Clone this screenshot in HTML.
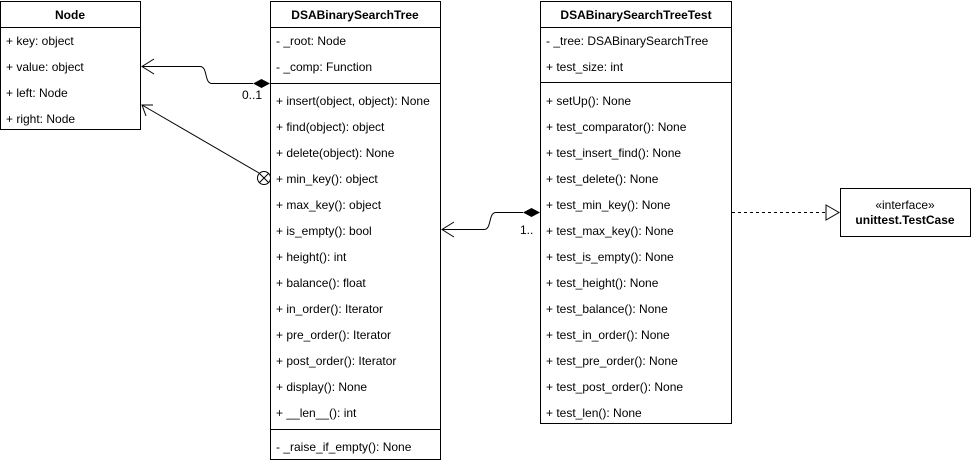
<!DOCTYPE html>
<html><head><style>body{margin:0;background:#fff}svg{display:block}text{font-family:"Liberation Sans",Arial,sans-serif;font-size:12px;fill:#000}</style></head><body>
<svg width="971" height="462" xmlns="http://www.w3.org/2000/svg">
<g fill="#fff" stroke="#000" stroke-width="1">
<rect x="0.5" y="1.5" width="140" height="128"/>
<rect x="270.5" y="1.5" width="170" height="458"/>
<rect x="540.5" y="1.5" width="191" height="422"/>
<rect x="840.5" y="188.5" width="130" height="48"/>
</g>
<g stroke="#000">
<line x1="0" y1="27.5" x2="141" y2="27.5"/>
<line x1="270" y1="27.5" x2="441" y2="27.5"/>
<line x1="270" y1="83.5" x2="441" y2="83.5"/>
<line x1="270" y1="429.5" x2="441" y2="429.5"/>
<line x1="540" y1="27.5" x2="732" y2="27.5"/>
<line x1="540" y1="82.5" x2="732" y2="82.5"/>
</g>
<g font-weight="bold" text-anchor="middle">
<text x="70" y="19" font-weight="bold">Node</text>
<text x="355" y="19" font-weight="bold">DSABinarySearchTree</text>
<text x="636" y="19" font-weight="bold">DSABinarySearchTreeTest</text>
</g>
<text x="905" y="209" text-anchor="middle" font-size="11">«interface»</text>
<text x="905" y="224" text-anchor="middle" font-weight="bold">unittest.TestCase</text>
<g>
<text x="6" y="45">+ key: object</text>
<text x="6" y="71">+ value: object</text>
<text x="6" y="97">+ left: Node</text>
<text x="6" y="123">+ right: Node</text>
</g>
<g>
<text x="276" y="45">- _root: Node</text>
<text x="276" y="71">- _comp: Function</text>
<text x="276" y="105">+ insert(object, object): None</text>
<text x="276" y="131">+ find(object): object</text>
<text x="276" y="157">+ delete(object): None</text>
<text x="276" y="183">+ min_key(): object</text>
<text x="276" y="209">+ max_key(): object</text>
<text x="276" y="235">+ is_empty(): bool</text>
<text x="276" y="261">+ height(): int</text>
<text x="276" y="287">+ balance(): float</text>
<text x="276" y="313">+ in_order(): Iterator</text>
<text x="276" y="339">+ pre_order(): Iterator</text>
<text x="276" y="365">+ post_order(): Iterator</text>
<text x="276" y="391">+ display(): None</text>
<text x="276" y="417">+ __len__(): int</text>
<text x="276" y="451">- _raise_if_empty(): None</text>
</g>
<g>
<text x="546" y="45">- _tree: DSABinarySearchTree</text>
<text x="546" y="71">+ test_size: int</text>
<text x="546" y="105">+ setUp(): None</text>
<text x="546" y="131">+ test_comparator(): None</text>
<text x="546" y="157">+ test_insert_find(): None</text>
<text x="546" y="183">+ test_delete(): None</text>
<text x="546" y="209">+ test_min_key(): None</text>
<text x="546" y="235">+ test_max_key(): None</text>
<text x="546" y="261">+ test_is_empty(): None</text>
<text x="546" y="287">+ test_height(): None</text>
<text x="546" y="313">+ test_balance(): None</text>
<text x="546" y="339">+ test_in_order(): None</text>
<text x="546" y="365">+ test_pre_order(): None</text>
<text x="546" y="391">+ test_post_order(): None</text>
<text x="546" y="417">+ test_len(): None</text>
</g>
<g fill="none" stroke="#000" stroke-width="1">
<path d="M253 83.5 H212 C204 83.5 208 66.5 200 66.5 H142"/>
<path d="M154 59 L142 66.5 L154 74"/>
<path d="M259 173 L142 105"/>
<path d="M146 116 L142 105 L153 105"/>
<circle cx="264" cy="178" r="6.5"/>
<path d="M259.5 173.5 L268.5 182.5 M268.5 173.5 L259.5 182.5"/>
<path d="M523 212.5 H496 C488 212.5 492 229.5 484 229.5 H442"/>
<path d="M454 222 L442 229.5 L454 237"/>
<path d="M732 212.5 H826" stroke-dasharray="3,3"/>
<path d="M826 205 L839 212.5 L826 220 Z"/>
</g>
<path d="M270 83.5 L261.5 79 L253 83.5 L261.5 88 Z" fill="#000"/>
<path d="M540 212.5 L531.5 208 L523 212.5 L531.5 217 Z" fill="#000"/>
<text x="242" y="99" font-size="10">0..1</text>
<text x="520" y="234" font-size="10">1..</text>
</svg>
</body></html>
